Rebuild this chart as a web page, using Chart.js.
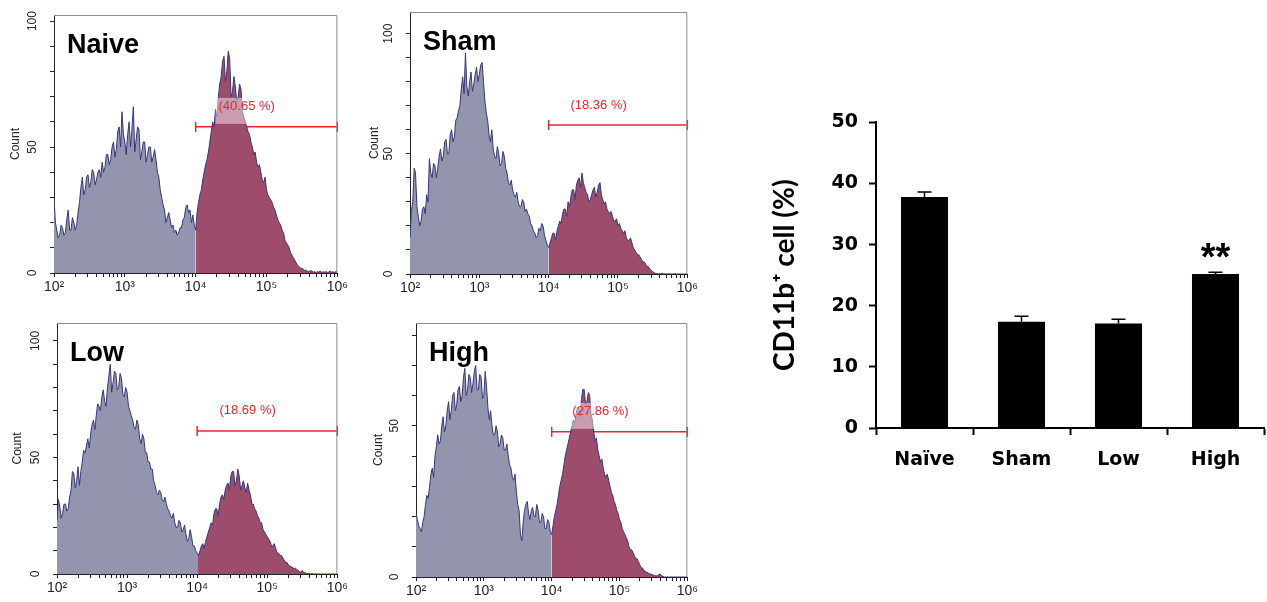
<!DOCTYPE html>
<html>
<head>
<meta charset="utf-8">
<script src="https://cdn.jsdelivr.net/npm/chart.js@4.4.0/dist/chart.umd.min.js"></script>
<style>
  body { margin: 0; background: #fff; width: 1267px; height: 602px; overflow: hidden; position: relative; }
  .panel { position: absolute; }
</style>
</head>
<body>
<div class="panel" style="left:0;top:0;width:350px;height:300px"><canvas id="naiveChart"></canvas></div>
<div class="panel" style="left:350px;top:0;width:350px;height:300px"><canvas id="shamChart"></canvas></div>
<div class="panel" style="left:0;top:300px;width:350px;height:302px"><canvas id="lowChart"></canvas></div>
<div class="panel" style="left:350px;top:300px;width:350px;height:302px"><canvas id="highChart"></canvas></div>
<div class="panel" style="left:760px;top:100px;width:507px;height:400px"><canvas id="barChart"></canvas></div>

<script>
// histogram counts, 50 bins per decade from 10^2 to 10^6 (201 bins)
var naiveCounts = [
  30, 20, 17, 14, 15, 19, 18, 15, 16, 21, 25, 17, 17, 22, 20, 17, 19, 24, 28, 34,
  38, 31, 33, 38, 39, 34, 36, 41, 40, 35, 37, 40, 41, 38, 44, 40, 42, 47, 47, 43,
  45, 50, 52, 46, 49, 56, 58, 50, 64, 55, 52, 47, 55, 60, 50, 57, 66, 48, 53, 58,
  57, 45, 48, 52, 52, 44, 47, 50, 50, 44, 46, 49, 45, 40, 38, 33, 30, 27, 25, 20,
  22, 24, 21, 18, 19, 16, 17, 15, 16, 18, 18, 21, 22, 26, 27, 24, 25, 20, 23, 19,
  17,
  24, 28, 31, 33, 37, 40, 43, 45, 48, 52, 56, 60, 58, 65, 62, 70, 75, 78, 84,
  86, 76, 80, 88, 85, 70, 72, 78, 74, 68, 70, 75, 73, 64, 62, 60, 58, 56, 55, 52,
  50, 47, 48, 44, 42, 43, 40, 37, 36, 38, 33, 31, 30, 29, 28, 26, 25, 23, 21, 20,
  19, 17, 16, 13, 12, 11, 10, 8, 7, 6, 5, 4, 3, 2.5, 2, 1.8, 1.5, 1, 1.2, 0.6,
  0.5, 1, 0.8, 0.3, 0.5, 0.2, 0.6, 0.3, 0.8, 0.2, 0.5, 0.3, 0.6, 0.2, 0.4, 0.8, 0.3, 0.5, 0.2, 0.6,
  0.3
];
var shamCounts = [
  15, 26, 30, 44, 42, 28, 24, 20, 22, 27, 28, 25, 33, 30, 48, 42, 40, 46, 45, 40,
  44, 49, 52, 47, 49, 55, 56, 50, 50, 58, 60, 55, 57, 64, 65, 68, 70, 77, 82, 75,
  92, 78, 74, 80, 84, 76, 79, 83, 86, 80, 83, 87, 88, 80, 72, 67, 64, 58, 55, 60,
  52, 49, 48, 53, 50, 45, 46, 51, 49, 44, 42, 38, 37, 39, 35, 33, 32, 34, 30, 28,
  28, 31, 30, 26, 27, 25, 24, 21, 20, 18, 17, 15, 16, 19, 18, 21, 20, 16, 14, 12,
  11,
  13, 15, 17, 17, 14, 18, 20, 22, 21, 25, 27, 27, 24, 30, 28, 32, 35, 35, 31,
  37, 39, 40, 36, 42, 38, 36, 34, 33, 30, 31, 33, 35, 36, 32, 34, 37, 38, 33, 31,
  29, 30, 27, 26, 25, 26, 24, 22, 22, 23, 20, 21, 19, 18, 17, 18, 15, 14, 14, 15,
  13, 11, 10, 9, 8, 8, 7, 6, 5, 5, 4, 3, 3, 2, 1.5, 1, 0.5, 0.3, 0.2, 0,
  0.2, 0, 0.3, 0, 0.1, 0, 0, 0.2, 0, 0, 0, 0.2, 0, 0, 0, 0, 0, 0, 0, 0,
  0
];
var lowCounts = [
  23, 32, 29, 24, 26, 30, 30, 27, 28, 33, 36, 44, 43, 37, 40, 46, 38, 44, 48, 53,
  52, 55, 58, 54, 60, 64, 66, 62, 68, 73, 72, 70, 76, 79, 74, 72, 80, 85, 90, 78,
  82, 87, 86, 79, 80, 86, 84, 77, 76, 80, 78, 72, 70, 68, 66, 63, 62, 66, 64, 58,
  56, 60, 58, 52, 52, 48, 48, 45, 45, 40, 38, 35, 34, 36, 35, 32, 31, 33, 30, 28,
  27, 25, 24, 26, 22, 20, 20, 23, 22, 18, 19, 21, 17, 14, 15, 19, 16, 12, 12, 10,
  9,
  8, 10, 12, 13, 11, 14, 16, 18, 20, 22, 21, 26, 28, 28, 25, 30, 33, 34, 32,
  36, 38, 39, 36, 42, 44, 44, 38, 40, 45, 42, 36, 38, 40, 37, 35, 39, 36, 34, 30,
  30, 28, 27, 25, 24, 22, 22, 19, 18, 17, 16, 15, 14, 12, 12, 13, 11, 9, 9, 8,
  8, 7, 6, 5, 5, 4, 3.5, 3, 3, 2, 2.5, 2, 1.5, 1, 0.8, 1.5, 0.5, 0.5, 0.3, 0.2,
  0.3, 0, 0.2, 0, 0, 0.1, 0, 0, 0, 0, 0, 0, 0, 0, 0, 0, 0, 0, 0, 0,
  0
];
var highCounts = [
  21, 19, 17, 16, 15, 18, 20, 24, 27, 26, 30, 34, 36, 33, 40, 43, 47, 44, 45, 50,
  53, 48, 50, 55, 58, 52, 55, 60, 61, 55, 57, 62, 63, 58, 60, 66, 69, 60, 62, 67,
  66, 61, 64, 68, 70, 62, 62, 67, 66, 59, 60, 68, 63, 56, 52, 55, 50, 47, 47, 50,
  48, 43, 44, 47, 46, 42, 42, 44, 40, 37, 36, 33, 32, 34, 28, 24, 22, 14, 12, 18,
  22, 24, 25, 21, 19, 22, 23, 20, 20, 24, 22, 18, 18, 21, 20, 16, 16, 19, 18, 15,
  14,
  17, 20, 22, 24, 27, 30, 32, 34, 37, 40, 42, 44, 46, 48, 50, 52, 51, 54, 56,
  56, 53, 59, 62, 62, 57, 58, 61, 60, 54, 52, 48, 45, 46, 42, 40, 38, 39, 36, 34,
  33, 34, 32, 30, 28, 27, 25, 24, 22, 21, 19, 18, 16, 15, 14, 13, 12, 10, 9, 9,
  8, 7, 6, 6, 5, 4, 3, 3, 2, 2, 1.5, 1.5, 1, 1, 0.8, 0.6, 0.5, 0.3, 0.5, 0.8,
  1, 0.3, 0.2, 0, 0, 0, 0, 0, 0, 0, 0, 0, 0, 0, 0, 0, 0, 0, 0, 0,
  0
];

// gate (marker) heights and percentages
var panelNames = ['Naive', 'Sham', 'Low', 'High'];
var gateHeights = [58, 62, 61.4, 48];
var gatePercents = ['(40.65 %)', '(18.36 %)', '(18.69 %)', '(27.86 %)'];

// bar chart
var groups = ['Naïve', 'Sham', 'Low', 'High'];
var cd11b = [37.8, 17.4, 17.1, 25.2];
var cd11bErr = [0.8, 0.9, 0.7, 0.3];
var barTicks = [0, 10, 20, 30, 40, 50];

var bins = [];
for (var i = 0; i <= 200; i++) bins.push(Math.pow(10, 2 + i * 0.02));
var sup = { 2: '²', 3: '³', 4: '⁴', 5: '⁵', 6: '⁶' };

// frame, panel name, gate label and rotated y labels
var decorPlugin = {
  id: 'decor',
  afterDatasetsDraw: function(chart, args, o) {
    var ctx = chart.ctx, a = chart.chartArea, x = chart.scales.x, y = chart.scales.y;
    ctx.save();
    ctx.strokeStyle = '#8c8c8c';
    ctx.lineWidth = 1;
    ctx.beginPath();
    ctx.moveTo(a.left, a.top + 0.5);
    ctx.lineTo(a.right - 0.5, a.top + 0.5);
    ctx.lineTo(a.right - 0.5, a.bottom);
    ctx.stroke();

    var lx = x.getPixelForValue(o.labelAt), gy = y.getPixelForValue(o.gate);
    ctx.font = '13px "Liberation Sans", Arial';
    var w = ctx.measureText(o.label).width;
    ctx.fillStyle = 'rgba(255,255,255,0.45)';
    ctx.fillRect(lx - w / 2 - 3, gy - 29, w + 6, 26);
    ctx.fillStyle = '#e8262e';
    ctx.textAlign = 'center';
    ctx.textBaseline = 'middle';
    ctx.fillText(o.label, lx, gy - 20);

    ctx.fillStyle = '#222';
    ctx.font = '12px "Liberation Sans", Arial';
    o.yLabels.forEach(function(v) {
      ctx.save();
      ctx.translate(a.left - 21, y.getPixelForValue(v));
      ctx.rotate(-Math.PI / 2);
      ctx.fillText(String(v), 0, 0);
      ctx.restore();
    });

    ctx.fillStyle = '#000';
    ctx.font = 'bold 27px "Liberation Sans", Arial';
    ctx.textAlign = 'left';
    ctx.textBaseline = 'alphabetic';
    ctx.fillText(o.title, a.left + 13, a.top + 38);
    ctx.restore();
  }
};

function drawHisto(id, idx, counts, p) {
  var pts = bins.map(function(b, i) { return { x: b, y: counts[i] }; });
  var gate = gateHeights[idx];
  var yLabels = [];
  for (var v = 0; v <= p.ymax; v += 50) yLabels.push(v);

  new Chart(document.getElementById(id), {
    type: 'line',
    data: {
      datasets: [
        { data: pts.slice(0, 101), fill: 'origin', backgroundColor: '#9394ae', borderColor: '#36377a',
          borderWidth: 1, pointRadius: 0, tension: 0 },
        { data: pts.slice(100), fill: 'origin', backgroundColor: '#9e4c6c', borderColor: '#36377a',
          borderWidth: 1, pointRadius: 0, tension: 0 },
        { data: [{ x: 1e4, y: gate }, { x: 1e6, y: gate }], fill: false, borderColor: '#e8262e',
          borderWidth: 1.5, pointStyle: 'line', rotation: 90, pointRadius: 5,
          pointBorderColor: '#e8262e', pointBorderWidth: 1.5, clip: false }
      ]
    },
    options: {
      responsive: true,
      maintainAspectRatio: false,
      animation: false,
      layout: { padding: { top: p.top, right: p.right, left: 0, bottom: 0 } },
      plugins: {
        legend: { display: false },
        tooltip: { enabled: false },
        decor: { title: panelNames[idx], label: gatePercents[idx], gate: gate, labelAt: 52500, yLabels: yLabels }
      },
      scales: {
        x: {
          type: 'logarithmic', min: 100, max: 1e6,
          afterBuildTicks: function(s) {
            var t = [];
            for (var e = 2; e < 6; e++) for (var k = 1; k < 10; k++) t.push({ value: k * Math.pow(10, e) });
            t.push({ value: 1e6 });
            s.ticks = t;
          },
          afterFit: function(s) { s.height = p.xh; },
          ticks: {
            autoSkip: false, maxRotation: 0, padding: 2, color: '#222',
            font: { family: '"Liberation Sans", Arial', size: 14 },
            callback: function(v) {
              var e = Math.round(Math.log10(v));
              return Math.abs(v - Math.pow(10, e)) < 1e-6 * v ? '10' + sup[e] : '';
            }
          },
          grid: { drawOnChartArea: false, tickLength: 4, tickColor: '#222' },
          border: { color: '#222', width: 1 }
        },
        y: {
          min: 0, max: p.ymax,
          afterBuildTicks: function(s) {
            var t = [];
            for (var v = 0; v < p.ymax; v += 10) t.push({ value: v });
            s.ticks = t;
          },
          afterFit: function(s) { s.width = p.yw; },
          ticks: { callback: function() { return ''; } },
          grid: { drawOnChartArea: false, tickLength: 4, tickColor: '#222' },
          border: { color: '#222', width: 1 },
          title: { display: true, text: 'Count', color: '#222', font: { family: '"Liberation Sans", Arial', size: 12 },
                   padding: { top: p.titlePad, bottom: 0 } }
        }
      }
    },
    plugins: [decorPlugin]
  });
}

drawHisto('naiveChart', 0, naiveCounts, { top: 15, right: 12, xh: 27, yw: 54, ymax: 102.4, titlePad: 8 });
drawHisto('shamChart', 1, shamCounts, { top: 12, right: 11, xh: 26, yw: 60, ymax: 109, titlePad: 17 });
drawHisto('lowChart', 2, lowCounts, { top: 23, right: 11, xh: 28, yw: 57, ymax: 107.7, titlePad: 10 });
drawHisto('highChart', 3, highCounts, { top: 23, right: 8, xh: 25, yw: 66, ymax: 84, titlePad: 21 });

// error bars and significance mark
var errorPlugin = {
  id: 'errbars',
  afterDatasetsDraw: function(chart) {
    var ctx = chart.ctx, meta = chart.getDatasetMeta(0), y = chart.scales.y;
    ctx.save();
    ctx.strokeStyle = '#000';
    ctx.lineWidth = 1.5;
    meta.data.forEach(function(bar, i) {
      var top = y.getPixelForValue(cd11b[i] + cd11bErr[i]);
      ctx.beginPath();
      ctx.moveTo(bar.x, bar.y);
      ctx.lineTo(bar.x, top);
      ctx.moveTo(bar.x - 7, top);
      ctx.lineTo(bar.x + 7, top);
      ctx.stroke();
    });
    var hb = meta.data[3];
    ctx.fillStyle = '#000';
    ctx.font = 'bold 38px "Liberation Sans", Arial';
    ctx.textAlign = 'center';
    ctx.textBaseline = 'alphabetic';
    ctx.fillText('**', hb.x, y.getPixelForValue(cd11b[3] + cd11bErr[3]) - 2);
    ctx.restore();
  }
};

new Chart(document.getElementById('barChart'), {
  type: 'bar',
  data: {
    labels: groups,
    datasets: [{ data: cd11b, backgroundColor: '#000', barPercentage: 0.485, categoryPercentage: 1 }]
  },
  options: {
    responsive: true,
    maintainAspectRatio: false,
    animation: false,
    layout: { padding: { top: 22, right: 3 } },
    plugins: { legend: { display: false }, tooltip: { enabled: false } },
    scales: {
      x: {
        afterFit: function(s) { s.height = 72; },
        grid: { offset: true, drawOnChartArea: false, tickLength: 7, tickWidth: 2, tickColor: '#000' },
        border: { color: '#000', width: 2 },
        ticks: { color: '#000', padding: 14, font: { family: '"DejaVu Sans"', weight: 'bold', size: 19 } }
      },
      y: {
        min: 0, max: 50,
        afterBuildTicks: function(s) { s.ticks = barTicks.map(function(v) { return { value: v }; }); },
        afterFit: function(s) { s.width = 116; },
        grid: { drawOnChartArea: false, tickLength: 7, tickWidth: 2, tickColor: '#000' },
        border: { color: '#000', width: 2 },
        ticks: { color: '#000', padding: 11, font: { family: '"DejaVu Sans"', weight: 'bold', size: 19 } },
        title: { display: true, text: 'CD11b⁺ cell (%)', color: '#000', font: { family: 'Lato', weight: 'bold', size: 28 },
                 padding: { top: 8, bottom: 0 } }
      }
    }
  },
  plugins: [errorPlugin]
});
</script>
</body>
</html>
